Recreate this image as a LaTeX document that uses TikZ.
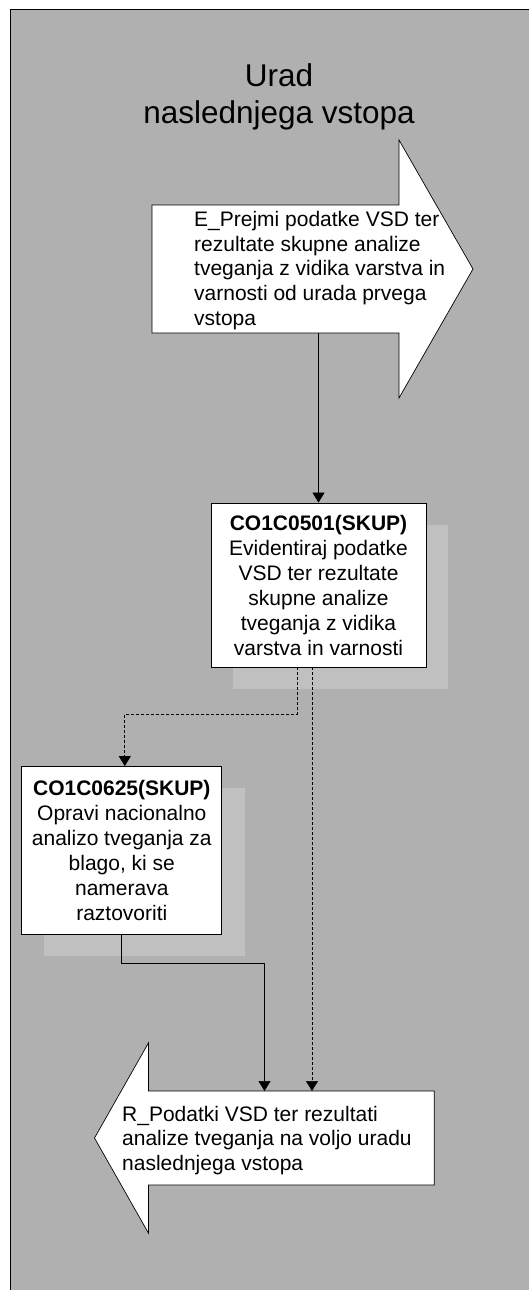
\documentclass[tikz,border=0pt]{standalone}
\usepackage{fontspec}
\setmainfont{Liberation Sans}
\usetikzlibrary{arrows.meta}
\definecolor{bgc}{RGB}{176,176,176}
\definecolor{shadowc}{RGB}{192,192,192}
\begin{document}
\begin{tikzpicture}[x=1pt,y=-1pt,
  txt/.style={font=\fontsize{21}{24.6}\selectfont, inner sep=0pt},
  titletxt/.style={font=\fontsize{31.5}{37}\selectfont, inner sep=0pt, align=center},
  procbox/.style={draw=black, fill=white, line width=0.8pt, inner sep=0pt, align=center, font=\fontsize{21}{25}\selectfont},
  shadowfill/.style={fill=shadowc, draw=none},
  flow/.style={line width=0.7pt, -{Triangle[length=10pt,width=12pt]}},
  dflow/.style={flow, dash pattern=on 3pt off 2pt},
  bigarrow/.style={draw=black, fill=white, line width=0.7pt},
  bodynode/.style={inner sep=0pt, outer sep=0pt, draw=none}]

\useasboundingbox (0,0) rectangle (529,1290);
\draw[fill=bgc, line width=0.8pt] (10,9) rectangle (540,1300);

% title (base anchor = last line baseline)
\node[titletxt, anchor=base] (title) at (279,123) {Urad\\naslednjega vstopa};

% entry arrow
\node[bodynode, minimum width=247pt, minimum height=128pt] (ebody) at (275.5,269) {};
\draw[bigarrow] (ebody.north west) -- (ebody.north east) -- (399,140) -- (473,269)
  -- (399,398) -- (ebody.south east) -- (ebody.south west) -- cycle;
\node[txt, anchor=base west, align=left] (etext) at (194,325)
  {E\_Prejmi podatke VSD ter\\rezultate skupne analize\\tveganja z vidika varstva in\\varnosti od urada prvega\\vstopa};

% box 1
\fill[shadowfill] (233,525) rectangle (448,689);
\node[procbox, minimum width=215pt, minimum height=164pt] (box1) at (318.5,585)
  {\textbf{CO1C0501(SKUP)}\\Evidentiraj podatke\\VSD ter rezultate\\skupne analize\\tveganja z vidika\\varstva in varnosti};

% box 2
\fill[shadowfill] (44,788) rectangle (245,956);
\node[procbox, minimum width=200pt, minimum height=168pt] (box2) at (121.8,850.5)
  {\textbf{CO1C0625(SKUP)}\\Opravi nacionalno\\analizo tveganja za\\blago, ki se\\namerava\\raztovoriti};

% result arrow
\node[bodynode, minimum width=285.8pt, minimum height=94pt] (rbody) at (291.3,1138) {};
\draw[bigarrow] (rbody.north east) -- (rbody.north west) -- (148.4,1043) -- (94.5,1138)
  -- (148.4,1233) -- (rbody.south west) -- (rbody.south east) -- cycle;
\node[txt, anchor=base west, align=left] (rtext) at (122,1170.4)
  {R\_Podatki VSD ter rezultati\\analize tveganja na voljo uradu\\naslednjega vstopa};

% connectors
\draw[flow] (box1.north |- ebody.south) -- (box1.north);
\draw[dflow] ([xshift=-21.5pt]box1.south) -- ++(0,47) -| ([xshift=3pt]box2.north);
\draw[dflow] ([xshift=-6.5pt]box1.south) -- ([xshift=-6.5pt]box1.south |- rbody.north);
\draw[flow] (box2.south) -- ++(0,28.5) -| ([xshift=-26.8pt]rbody.north);
\end{tikzpicture}
\end{document}
